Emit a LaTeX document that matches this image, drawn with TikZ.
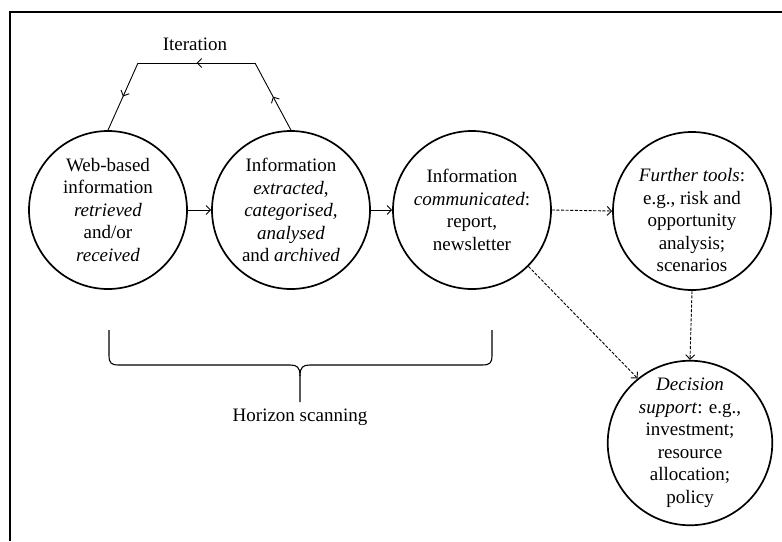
\documentclass[tikz,border=0pt]{standalone}
\usepackage{fontspec}
\setmainfont{Liberation Serif}
\usetikzlibrary{arrows.meta,decorations.markings}
\begin{document}
\begin{tikzpicture}[x=1pt,y=-1pt,
  >={Straight Barb[length=4.5pt,width=9pt]},
  stage/.style={draw,circle,line width=1.7pt,minimum size=158pt,inner sep=0pt,
    align=center,font=\fontsize{19}{22.5}\selectfont},
  flow/.style={->,line width=0.9pt},
  optional/.style={->,line width=0.9pt,dash pattern=on 3pt off 1.6pt},
  midarrow/.style={line width=0.9pt,postaction={decorate},
    decoration={markings,mark=at position 0.5 with {\arrow{>}}}},
  lbl/.style={font=\fontsize{19}{22.5}\selectfont,inner sep=0pt,align=center}]
\useasboundingbox (0,0) rectangle (782,541);
% outer frame (top and left edges)
\draw[line width=2pt] (10,541) -- (10,11.5) -- (782,11.5);

% process stages
\node[stage] (web) at (108,210) {Web-based\\information\\\textit{retrieved}\\and/or\\\textit{received}};
\node[stage] (proc) at (291,210) {Information\\\textit{extracted},\\\textit{categorised,}\\\textit{analysed}\\and \textit{archived}};
\node[stage] (comm) at (472,210) {Information\\\textit{communicated}:\\report,\\newsletter};
\node[stage] (tools) at (692,211) {};
\node[lbl] (toolsText) at (692,220) {\textit{Further tools}:\\e.g., risk and\\opportunity\\analysis;\\scenarios};
\node[stage] (dec) at (690,443) {\textit{Decision}\\\textit{support}: e.g.,\\investment;\\resource\\allocation;\\policy};

% main flow
\draw[flow] (web.east) -- (proc.west);
\draw[flow] (proc.east) -- (comm.west);
\draw[optional] (comm.east) -- (tools.west);
\draw[optional] (comm.-45) -- (dec.129);
\draw[optional] (tools.south) -- (dec.north);

% iteration loop
\coordinate (itR) at (255,63);
\coordinate (itL) at (138,63);
\draw[midarrow] (proc.north) -- (itR);
\draw[midarrow] (itR) -- (itL);
\draw[midarrow] (itL) -- (web.north);
\node[lbl] (iter) at (195,44) {Iteration};

% brace over the scanning stages
\coordinate (brL) at (109,330);
\coordinate (brR) at (492,330);
\coordinate (brTip) at (300,402);
\draw[line width=1.1pt] (brL) -- (109,355) .. controls (109,363) and (111,365) .. (119,365)
  -- (290,365) .. controls (297,365) and (300,367) .. (300,376) -- (brTip);
\draw[line width=1.1pt] (brR) -- (492,355) .. controls (492,363) and (490,365) .. (482,365)
  -- (310,365) .. controls (303,365) and (300,367) .. (300,376);
\node[lbl] (scan) at (300,417) {Horizon scanning};
\end{tikzpicture}
\end{document}
